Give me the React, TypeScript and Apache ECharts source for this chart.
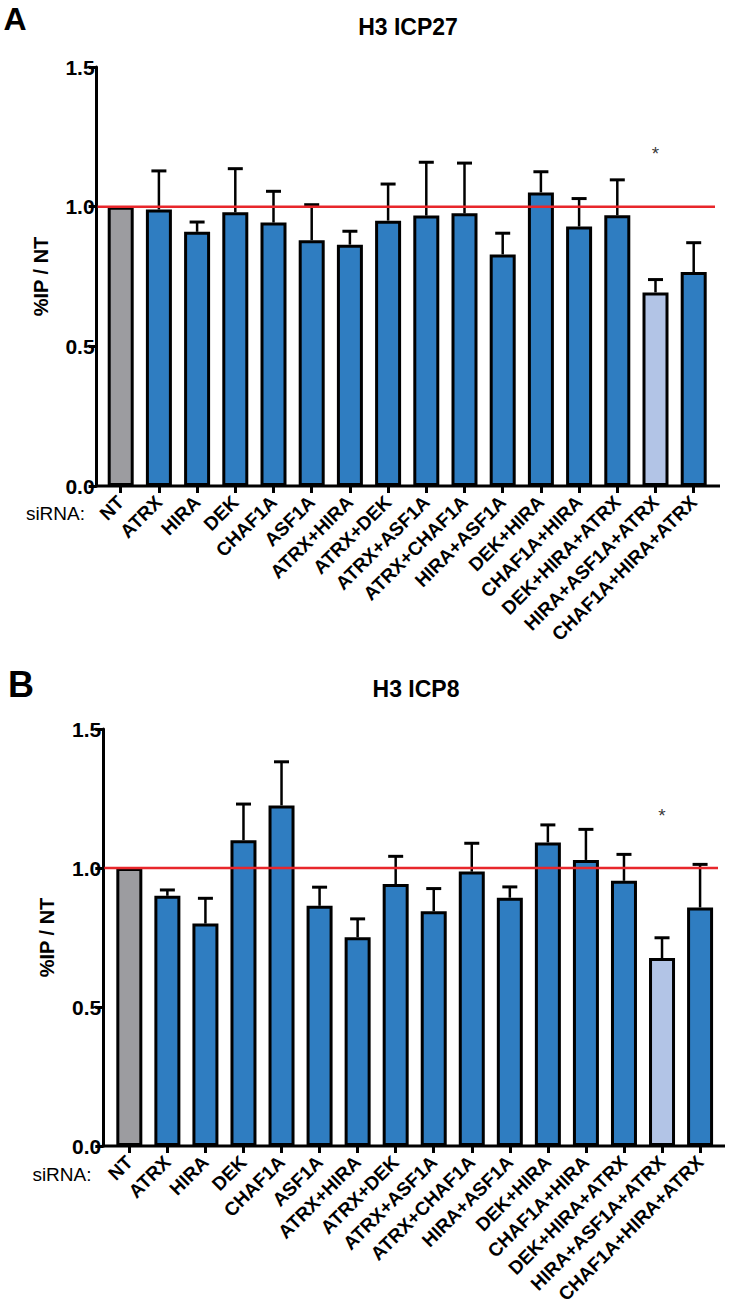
import React, { useEffect, useRef } from "react";
import * as echarts from "echarts";

const categories = [
  "NT", "ATRX", "HIRA", "DEK", "CHAF1A", "ASF1A", "ATRX+HIRA", "ATRX+DEK",
  "ATRX+ASF1A", "ATRX+CHAF1A", "HIRA+ASF1A", "DEK+HIRA", "CHAF1A+HIRA",
  "DEK+HIRA+ATRX", "HIRA+ASF1A+ATRX", "CHAF1A+HIRA+ATRX",
];
const icp27Mean = [1.0, 0.99, 0.91, 0.98, 0.943, 0.88, 0.864, 0.95, 0.968, 0.976, 0.829, 1.051, 0.929, 0.969, 0.693, 0.766];
const icp27Sem = [0, 0.138, 0.035, 0.156, 0.112, 0.127, 0.048, 0.131, 0.191, 0.18, 0.076, 0.074, 0.1, 0.127, 0.046, 0.105];
const icp8Mean = [1.0, 0.9, 0.8, 1.1, 1.225, 0.864, 0.751, 0.942, 0.844, 0.987, 0.893, 1.092, 1.029, 0.954, 0.676, 0.858];
const icp8Sem = [0, 0.021, 0.091, 0.13, 0.157, 0.067, 0.066, 0.1, 0.082, 0.102, 0.039, 0.063, 0.11, 0.095, 0.073, 0.155];
const yTicks = [0, 0.5, 1.0, 1.5];
const referenceLevel = 1.0;
const sigIndex = 14;
const sigY = 1.19;
const titles = ["H3 ICP27", "H3 ICP8"];
const panelLetters = ["A", "B"];
const yName = "%IP / NT";
const xLabelPrefix = "siRNA:";

const FONT = "Liberation Sans, Arial, Helvetica, sans-serif";
const BLUE = "#2f7dc1";
const GRAY = "#9c9ca0";
const LIGHT = "#b2c4e6";
const RED = "#e8262b";

const W = 729;
const H = 1305;

const layouts = [
  { left: 101.6, right: W - 712.8, top: 67, bottom: H - 486, yOffset: 5, xEnd: 720, redEnd: 715,
    letter: { x: 15, y: 19, size: 32 }, title: { x: 408, y: 27 }, sirna: { x: 85, y: 513 } },
  { left: 110.3, right: W - 719.1, top: 729, bottom: H - 1146, yOffset: 7, xEnd: 725, redEnd: 718,
    letter: { x: 21, y: 684, size: 36 }, title: { x: 416, y: 689 }, sirna: { x: 91.5, y: 1174 } },
];

const datasets = [
  { mean: icp27Mean, sem: icp27Sem },
  { mean: icp8Mean, sem: icp8Sem },
];

function barColor(i: number) {
  if (i === 0) return GRAY;
  if (i === sigIndex) return LIGHT;
  return BLUE;
}

function buildOption() {
  const grid: any[] = [];
  const xAxis: any[] = [];
  const yAxis: any[] = [];
  const series: any[] = [];
  datasets.forEach((d, gi) => {
    const L = layouts[gi];
    grid.push({
      left: L.left, right: L.right, top: L.top, bottom: L.bottom,
      containLabel: false, outerBoundsMode: "none",
    });
    xAxis.push({
      type: "category",
      gridIndex: gi,
      data: categories,
      boundaryGap: true,
      axisLine: { show: false },
      axisTick: { show: true, alignWithLabel: true, length: 7, lineStyle: { color: "#000", width: 3 } },
      axisLabel: {
        interval: 0, rotate: 45, margin: 13, color: "#000",
        fontFamily: FONT, fontWeight: "bold", fontSize: 19,
      },
      splitLine: { show: false },
    });
    yAxis.push({
      type: "value",
      gridIndex: gi,
      min: yTicks[0],
      max: yTicks[yTicks.length - 1],
      interval: yTicks[1] - yTicks[0],
      offset: L.yOffset,
      name: yName,
      nameLocation: "middle",
      nameRotate: 90,
      nameGap: 46,
      nameTextStyle: { fontFamily: FONT, fontWeight: "bold", fontSize: 20, color: "#000" },
      axisLine: { show: true, lineStyle: { color: "#000", width: 3 } },
      axisTick: { show: true, length: 8, lineStyle: { color: "#000", width: 3 } },
      axisLabel: {
        margin: 2, color: "#000", fontFamily: FONT, fontWeight: "bold", fontSize: 21,
        formatter: (v: number) => v.toFixed(1),
      },
      splitLine: { show: false },
    });
    series.push({
      type: "bar",
      xAxisIndex: gi,
      yAxisIndex: gi,
      barWidth: 26,
      z: 2,
      data: d.mean.map((m, i) => ({
        value: m,
        itemStyle: { color: barColor(i), borderColor: "#000", borderWidth: 3 },
      })),
    });
    series.push({
      type: "custom",
      xAxisIndex: gi,
      yAxisIndex: gi,
      z: 3,
      encode: { x: 0, y: 1 },
      data: d.mean.map((m, i) => [i, m, d.sem[i]]),
      renderItem: (params: any, api: any) => {
        const i = api.value(0);
        const m = api.value(1);
        const e = api.value(2);
        if (!e) return null;
        const p0 = api.coord([i, m]);
        const p1 = api.coord([i, m + e]);
        const half = 7.5;
        return {
          type: "group",
          children: [
            { type: "line", shape: { x1: p0[0], y1: p0[1], x2: p1[0], y2: p1[1] }, style: { stroke: "#000", lineWidth: 2.5 } },
            { type: "line", shape: { x1: p1[0] - half, y1: p1[1], x2: p1[0] + half, y2: p1[1] }, style: { stroke: "#000", lineWidth: 3 } },
          ],
        };
      },
    });
    series.push({
      type: "scatter",
      xAxisIndex: gi,
      yAxisIndex: gi,
      symbolSize: 1,
      itemStyle: { color: "rgba(0,0,0,0)" },
      label: { show: true, position: "inside", formatter: "*", fontSize: 19, color: "#000", fontFamily: FONT },
      data: [[sigIndex, sigY]],
    });
  });
  return { animation: false, backgroundColor: "#fff", grid, xAxis, yAxis, series };
}

export default function App() {
  const ref = useRef<HTMLDivElement>(null);
  useEffect(() => {
    if (!ref.current) return;
    const chart = echarts.init(ref.current, null, { renderer: "svg" });
    chart.setOption(buildOption());
    const graphic: any[] = [];
    datasets.forEach((_, gi) => {
      const L = layouts[gi];
      const p0 = chart.convertToPixel({ xAxisIndex: gi, yAxisIndex: gi }, [0, 0]) as number[];
      const p1 = chart.convertToPixel({ xAxisIndex: gi, yAxisIndex: gi }, [0, referenceLevel]) as number[];
      const axisX = L.left - L.yOffset;
      graphic.push({
        type: "line", z: 5,
        shape: { x1: axisX + 1, y1: p1[1], x2: L.redEnd, y2: p1[1] },
        style: { stroke: RED, lineWidth: 2.5 },
      });
      graphic.push({
        type: "line", z: 10,
        shape: { x1: axisX - 1.5, y1: p0[1], x2: L.xEnd, y2: p0[1] },
        style: { stroke: "#000", lineWidth: 3 },
      });
      graphic.push({
        type: "text", x: L.letter.x, y: L.letter.y,
        style: { text: panelLetters[gi], fontFamily: FONT, fontWeight: "bold", fontSize: L.letter.size, fill: "#000", align: "center", verticalAlign: "middle" },
      });
      graphic.push({
        type: "text", x: L.title.x, y: L.title.y,
        style: { text: titles[gi], fontFamily: FONT, fontWeight: "bold", fontSize: 23, fill: "#000", align: "center", verticalAlign: "middle" },
      });
      graphic.push({
        type: "text", x: L.sirna.x, y: L.sirna.y,
        style: { text: xLabelPrefix, fontFamily: FONT, fontSize: 19, fill: "#000", align: "right", verticalAlign: "middle" },
      });
    });
    chart.setOption({ graphic });
    return () => chart.dispose();
  }, []);
  return (
    <div
      ref={ref}
      style={{ position: "absolute", left: 0, top: 0, width: W, height: H, background: "#fff" }}
    />
  );
}
